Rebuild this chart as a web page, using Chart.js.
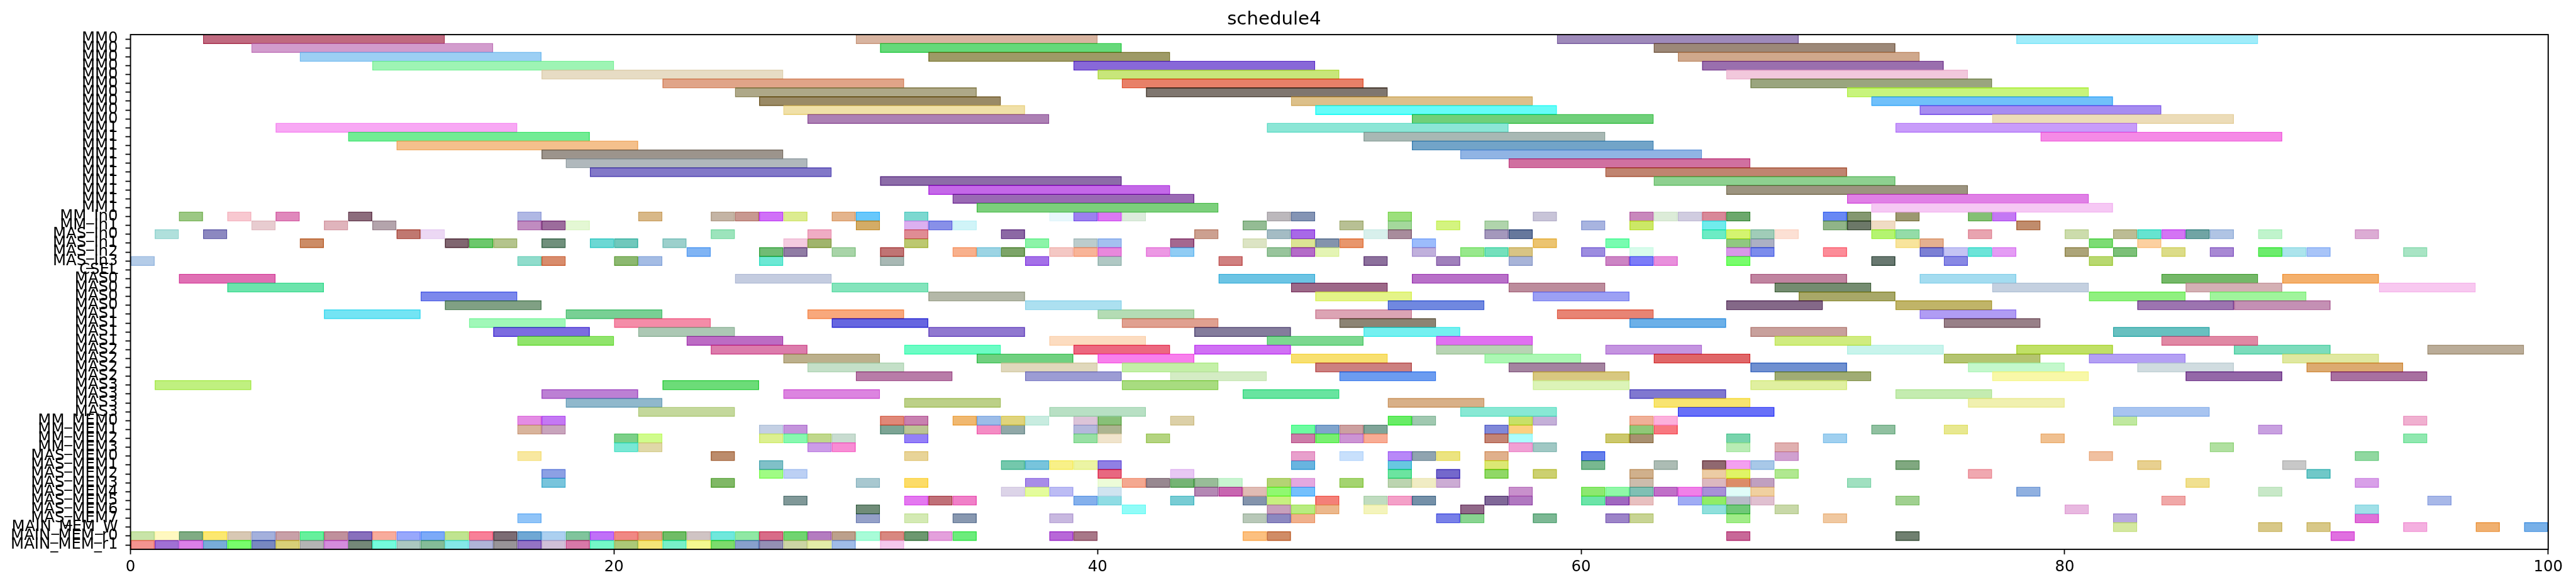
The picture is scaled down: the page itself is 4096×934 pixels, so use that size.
<!DOCTYPE html>
<html>
<head>
<meta charset="utf-8">
<script src="https://cdn.jsdelivr.net/npm/chart.js@4/dist/chart.umd.min.js"></script>
<style>
  html, body { margin: 0; padding: 0; background: #fff; }
</style>
</head>
<body>
<canvas id="chart" width="4096" height="934"></canvas>
<script>
// ── DATA ─────────────────────────────────────────────
const chartTitle = 'schedule4';

const rowLabels = [
  'MM0','MM0','MM0','MM0','MM0','MM0','MM0','MM0','MM0','MM0',
  'MM1','MM1','MM1','MM1','MM1','MM1','MM1','MM1','MM1','MM1',
  'MM_In0','MM_In1','MAS_In0','MAS_In1','MAS_In2','MAS_In3','CSEL',
  'MAS0','MAS0','MAS0','MAS0','MAS1','MAS1','MAS1','MAS1',
  'MAS2','MAS2','MAS2','MAS2','MAS3','MAS3','MAS3','MAS3',
  'MM_MEM0','MM_MEM1','MM_MEM2','MM_MEM3',
  'MAS_MEM0','MAS_MEM1','MAS_MEM2','MAS_MEM3','MAS_MEM4','MAS_MEM5','MAS_MEM6','MAS_MEM7',
  'MAIN_MEM_W','MAIN_MEM_r0','MAIN_MEM_r1'
];

// start time of every bar, one list per row (top to bottom)
const rowStarts = [
  [3,30,59,78], [5,31,63], [7,33,64], [10,39,65], [17,40,66],
  [22,41,67], [25,42,71], [26,48,72], [27,49,74], [28,53,77],
  [6,47,73], [9,51,79], [11,53], [17,55], [18,57],
  [19,61], [31,63], [33,66], [34,71], [35,72],
  [2,4,6,9,16,21,24,25,26,27,29,30,32,38,39,40,41,47,48,52,58,62,63,64,65,66,70,71,73,76,77],
  [5,8,10,16,17,18,30,32,33,34,46,50,52,54,56,60,62,65,70,71,72,78],
  [1,3,11,12,24,28,32,36,44,47,48,51,52,56,57,65,66,67,68,72,73,76,80,82,83,84,85,86,88,92],
  [7,13,14,15,17,19,20,22,27,28,32,37,39,40,43,46,48,49,50,53,58,61,66,67,73,74,81,83],
  [23,26,27,29,31,34,35,36,38,39,40,42,43,47,48,49,53,55,56,57,60,62,66,67,70,74,75,76,77,80,82,84,86,88,89,90,94],
  [0,16,17,20,21,26,31,37,40,45,51,54,57,61,62,63,66,72,75,81],
  [],
  [2,25,45,53,67,74,84,89],
  [4,29,48,57,68,77,85,93],
  [12,33,49,58,69,81,86],
  [13,37,52,66,73,83,87],
  [8,18,28,40,49,59,74],
  [14,20,29,41,50,62,75],
  [15,21,33,44,51,67,82],
  [16,23,38,47,54,68,84],
  [24,32,39,44,54,61,71,78,87,95],
  [27,35,40,48,56,63,75,81,89],
  [28,36,41,49,57,67,76,83,90],
  [30,37,43,50,58,68,77,85,91],
  [1,22,41,58,67],
  [17,27,46,62,73],
  [18,32,52,63,76],
  [21,38,55,64,82],
  [16,17,31,32,34,35,36,37,39,40,43,52,53,57,58,62,63,82,94],
  [16,17,26,27,31,32,35,36,39,40,48,49,50,51,56,57,62,63,72,75,88],
  [20,21,26,27,28,29,32,39,40,42,48,49,50,51,56,57,61,62,66,70,79,94],
  [20,21,28,29,57,58,66,68,86],
  [16,24,32,48,50,52,53,54,56,60,68,81,92],
  [26,36,37,38,39,40,48,52,56,60,63,65,66,67,73,83,89],
  [17,26,27,40,43,52,54,56,58,62,65,66,68,76,90],
  [17,24,30,32,37,40,41,42,43,44,45,47,48,50,52,53,54,62,65,66,67,71,85,92],
  [36,37,38,40,44,45,46,47,48,57,60,61,62,63,64,65,66,67,78,88],
  [27,32,33,34,39,40,43,46,47,49,51,52,53,56,57,60,61,62,64,65,66,67,73,84,95],
  [30,41,47,48,49,51,55,65,66,68,80,92],
  [16,30,32,34,38,46,47,48,54,55,58,61,62,66,70,82,92],
  [82,88,90,94,97,99],
  [0,1,2,3,4,5,6,7,8,9,10,11,12,13,14,15,16,17,18,19,20,21,22,23,24,25,26,27,28,29,30,31,32,33,34,38,39,46,47,66,73,91],
  [0,1,2,3,4,5,6,7,8,9,10,11,12,13,14,15,16,17,18,19,20,21,22,23,24,25,26,27,28,29,31]
];

// colour of every bar as seen in the picture, same order as rowStarts
const rowColors = [
  'c06a80 d8b4a0 9e8aba a0ecfa', 'd29ccd 66d97a 9c8878', '9ccff4 9e9a60 cfa88c', '9ef4b4 8868d8 9a6fae', 'e7dcc4 c8e67a f2c8dc',
  'e0a488 e88068 9aa57e', 'aea888 7f766f c8f47c', '9a8a60 dcc08a 70c0fa', 'f0e0a8 60fcf8 a68cf0', 'ac80b4 70d07a ecdcb8',
  'f8a8f4 8ce6d6 c89cfa', '72ec94 a8b8b4 f58ae6', 'f4c08c 72a4c8', '9c948c 90b4e4', 'b0b8bc d070a0',
  '8278c8 c08470', '8c6ca8 8ed090', 'c468e8 9c9480', '9a6ab4 e080e6', '7ccf7c f6c8f4',
  '9cc884 f8c8d0 e088bc 8c6c7c b0b8e4 d8b888 c4b4a4 c89890 d070f8 dcec90 e4b48c 68c8fc 7cd8d0 e8f8fc 9c80f0 dc78f4 dcecdc bcb8bc 8494b4 9ce07c c8c4d8 c888bc dcecd8 d0cce0 d88898 6ca86c 6888f4 849870 9c9870 84c074 c478f4',
  'e8ccd0 e0b4bc b4a4ac c08cc0 9c6c9c e4f8d4 d4ac64 dcb0f0 8890e8 d0f4f8 94bc94 b8c094 a4d89c d4f480 b0d4ac a8b4e0 cce860 70ecec 90b488 6c7868 f0dcc4 c08c6c',
  'b0e0dc 8c88c0 c07870 ecd8f4 9ce4bc f0acc4 e08c94 8c68a4 cca090 a4bcc4 a868e8 d8f0ec a88c9c a498bc 60789c 6cecc4 d4f470 a0ccb8 fce0d4 b4f470 94dca8 e8a4b0 ccdcac bcbc94 60e4d0 d474f4 70a4a4 b0c4e4 c0f4cc dcacd4',
  'cc8c64 806070 6cc86c b4c48c 70907c 6cd8d4 70c8bc 9cd0cc f4cce0 a0b46c bcc870 8cf4a8 bccccc a4c0f0 a46890 dce4c4 dce494 8494ac e8966c 9cbcfc ecc470 78fcb0 90c880 acb0c4 f8e49c e4b090 7cdc74 fcd0a0',
  '80b4f4 70bc74 907ca4 a8d4a8 c07474 f8b08c 9cd4e4 7ca468 f4c8c4 f8b498 e888dc ec98e4 90ccf4 98c49c b46cc8 e4f4b4 c0b0dc 98e88c 74e0bc d8c484 9c8ce0 d8fcec d898e8 7c8cec fc8c98 7c80d4 c4c4f4 6ce4d8 e49cf4 aca478 7cc078 dcdc88 a888d4 6cec6c ace4ec a8c4f8 a8e4c4',
  'b4cce8 90dccc d88c6c 8cb870 a4bce4 6ce8d4 a8b8b4 a470e8 b0c8c4 d08080 8c709c a080bc a8b4d8 cc84c4 7c7cf8 e890dc 78fc6c 687870 8888e4 b8d870',
  '',
  'e070b4 c4cce0 6cc4e4 b870c8 c084a0 a4dcf0 74b868 f4b06c',
  '6ce4ac 84e4bc 9c6888 bc8c9c 748c70 c4d0e0 d4b0b4 f8c8f0',
  '7c88ec b4b8a8 e4f488 9ca0f4 a8a868 90f080 a0f49c',
  '80a084 ace0f0 7088e0 846888 c0b468 9c74b0 c490b4',
  '74e4f4 78d094 f8a87c b4dcb4 dca4b4 e88474 b09cf4',
  'a0f8b8 f48ca8 6464e0 e0a090 8c8474 6cb0e8 988088',
  '7c6ce0 acc8b4 9078d0 847c9c 74f0f0 c8a09c 68c0c0',
  '90e46c bc6cc4 fcdcc0 7cd890 e070f0 d0ec80 e088a4',
  'dc7cac 6cfcc4 ec6880 d070f4 b8d4b4 c494e0 c8f4ec c0e060 7cdcbc baac98',
  'bcb08c 70d080 f880ec f8e070 acf8b4 e06068 b4c470 b4a0f4 e0e8a0',
  'c4e0c8 e0d8bc c4f0a8 cc8080 a484a0 7090d0 c4f8cc d0dce0 dcaa70',
  'b87ca8 9c9cd4 d4ecc4 6c9cf0 d8c880 a0ac74 f8f8a8 9468a8 a870a0',
  'c0f080 6cdc78 a8dc80 dcf4b8 e0f0a0',
  'bc80d4 dc84e0 68e4a0 8078d0 c4ecb0',
  '90b8cc bcd088 d8b088 f8e470 f0f0b0',
  'c4d89c b8e0c4 88e8d4 6870f8 a8c4f0',
  'e48ce4 c478f4 e08878 c880b0 f0b870 9cbce8 e0d47c c8ece0 dcc4d8 88c078 dcd0a8 68ec60 a0c8b0 c8e068 c4b0d8 f0b098 fcb0dc c0e8a0 f0b0d0',
  'd8b49c c8a4bc c4d0e4 c494dc 7ca494 bcc494 f48cc4 90a8a8 b4b8dc acb490 6cfca0 80a4cc cca0a0 80a498 8088d8 fcd080 90c878 f87880 90c0a0 e8e890 c8a0e0',
  '7cd088 d0fc8c dcf090 88f8b0 c0d88c c8dcd0 9480f8 98e0a4 f0e4cc b4d480 cc7ca8 78f070 cc94d4 f8ac94 c48474 acfcfc ccc86c a89070 78d4ac a0d0f0 f0c090 90e8b0',
  '78e8d4 e0d8a8 cc9ce8 f88cd4 f0a0d4 a0c8c4 b8ecb4 e0b0b0 b0e0a0',
  'f8e8a0 bc8c6c e8d498 e8a0cc c8e0fc b888f8 90a4b0 ece480 e0b08c 6480ec d0a0d0 f0c0a0 90d8a0',
  '80c0c8 74c8ac 78c4dc f8f088 ecf4a4 9080e4 68b4e0 68c8e0 dce874 78b890 acbcb4 906870 f4a0f0 a8c8e8 80a880 e8d090 c8c8c8',
  '8ca0e4 a0fc84 bcd0f4 e86880 e8c8f4 6ce4a0 7468cc 90d860 ccd070 d0b08c eccca4 e0f460 b0e890 f0a8b0 70c8c8',
  '78c4dc 80b864 a8c8d0 fcdc68 a88ce8 ecfcd8 f4a890 988890 74b474 98bc98 c8f4d0 b4d474 e4a8e0 a4d470 bcd4b0 f0ecc4 ccacd4 ccbcac dcb8c0 dc8c68 c0a0c0 a0e0c0 f0e090 d8a0e8',
  'dcd4e8 e4fc9c bcbcf4 d0e4f0 b488b4 c864b0 e0bcb4 90f870 74c0fc c890cc 8ce870 90f8a8 80c0b4 c070c8 f080e8 a890d8 e0fcf8 f0d0a0 90b0e0 c8e8c8',
  '809898 e478f0 c07078 f080c8 84b0ec 90dce4 78ccd4 8494ac c8f080 f48078 c0dcc0 f4a0c8 7490a8 806898 b078c0 6ce4a8 a068c0 e8c0c0 a0acf4 90ec60 b8bcc8 e0c0d0 a0d090 f0a8a8 a8b8e8',
  '708c78 90fcf8 c8a0bc b8ec80 ecb88c f4f4bc 906888 90e0dc 70c878 c8d8a8 e8b8e0 a0e0e8',
  '90c4f8 94a0c8 d4eab4 8898b0 c8b8e0 b8c8b8 8c88c0 f0b08c 7880e8 88d490 7cb894 9c84c8 c8d494 a0ec88 f0c8a0 b8a8e0 e070d8',
  'd4e8a0 d8c888 d8c888 f4b0e0 f0b070 78b0e8',
  'c8e4a8 fff8c0 80ac84 fce870 d8c8b4 a4b0dc c8a0a8 60f09c c0909c 8870bc f8ac9c 98a8fc 7caaf8 c0e490 f88098 7c6c74 70a8d4 acd0f0 80c49c c070f8 f08884 e0a488 70bc64 d0c4c4 70e8dc 90e8a4 d86c88 70d470 b47cc0 bca08c a8fcd8 d88880 6c9870 e4a0dc 6cec7c b868d8 a87888 fcc080 d08c60 c86898 708070 e070e0',
  'f49490 a070d4 dc80e8 78acd8 78fc6c 7888c0 d8d078 b4b4b4 d48cdc 748878 74fcdc acc8c0 84bc98 84e8e8 b0b4d8 989498 9474c4 d0c0d8 d878a8 74f8c8 acc878 f4e478 78f0c8 f4f890 7cdc6c 88a0cc 9490b4 ccd4a4 e4eca8 a0bce8 f4c8ec'
];

const xTicks = [0, 20, 40, 60, 80, 100];

// task length in time steps: MM jobs 10, MAS jobs 4, transfers 1
function taskLength(label) {
  if (/^MM\d/.test(label)) return 10;
  if (/^MAS\d/.test(label)) return 4;
  return 1;
}

// the picture shows colours at 60% over white; recover the base colour
function baseRgb(hex) {
  const v = [0, 2, 4].map(i => parseInt(hex.substr(i, 2), 16));
  return v.map(c => Math.max(0, Math.min(255, Math.round((c - 102) / 0.6)))).join(',');
}

// ── DATASETS ─────────────────────────────────────────
const S = 0.886;
const maxBars = Math.max(...rowStarts.map(r => r.length));
const datasets = [];
for (let k = 0; k < maxBars; k++) {
  const data = [], bg = [], bd = [];
  rowStarts.forEach((starts, i) => {
    const cols = rowColors[i].split(' ');
    if (k < starts.length) {
      data.push([starts[k], starts[k] + taskLength(rowLabels[i])]);
      const c = baseRgb(cols[k] || '888888');
      bg.push(`rgba(${c},0.6)`);
      bd.push(`rgba(${c},0.85)`);
    } else {
      data.push(null);
      bg.push('rgba(0,0,0,0)');
      bd.push('rgba(0,0,0,0)');
    }
  });
  datasets.push({
    data, backgroundColor: bg, borderColor: bd,
    borderWidth: 2 * S, borderSkipped: false,
    grouped: false, barPercentage: 1.1, categoryPercentage: 1
  });
}

// axes frame drawn over the bars, like matplotlib spines
const frame = {
  id: 'frame',
  afterDatasetsDraw(chart) {
    const { ctx, chartArea: a } = chart;
    ctx.save();
    ctx.strokeStyle = '#000';
    ctx.lineWidth = 2.2 * S;
    ctx.strokeRect(a.left, a.top, a.right - a.left, a.bottom - a.top);
    ctx.restore();
  }
};

const tickFont = { family: 'DejaVu Sans', size: 27.5 * S };

new Chart(document.getElementById('chart'), {
  type: 'bar',
  data: { labels: rowLabels, datasets },
  options: {
    indexAxis: 'y',
    responsive: false,
    animation: false,
    devicePixelRatio: 1,
    layout: { padding: { top: 0, right: 44.2, bottom: 0, left: 0 } },
    plugins: {
      legend: { display: false },
      tooltip: { enabled: false },
      title: {
        display: true, text: chartTitle, color: '#000',
        font: { family: 'DejaVu Sans', size: 33 * S, weight: 'normal', lineHeight: 1.2 },
        padding: { top: 13.6, bottom: 6.4 }
      }
    },
    scales: {
      x: {
        type: 'linear', min: 0, max: 100,
        afterBuildTicks: s => { s.ticks = xTicks.map(v => ({ value: v })); },
        afterFit: s => { s.height = 934 - 874.1; },
        border: { display: false },
        grid: { drawOnChartArea: false, drawTicks: true, tickLength: 8, tickWidth: 2 * S, tickColor: '#000' },
        ticks: { color: '#000', font: tickFont, padding: 6, maxRotation: 0 }
      },
      y: {
        type: 'category',
        offset: true,
        afterFit: s => { s.width = 207.5; },
        border: { display: false },
        grid: { offset: false, drawOnChartArea: false, drawTicks: true, tickLength: 8, tickWidth: 2 * S, tickColor: '#000' },
        ticks: { color: '#000', font: tickFont, padding: 12, autoSkip: false }
      }
    }
  },
  plugins: [frame]
});
</script>
</body>
</html>
